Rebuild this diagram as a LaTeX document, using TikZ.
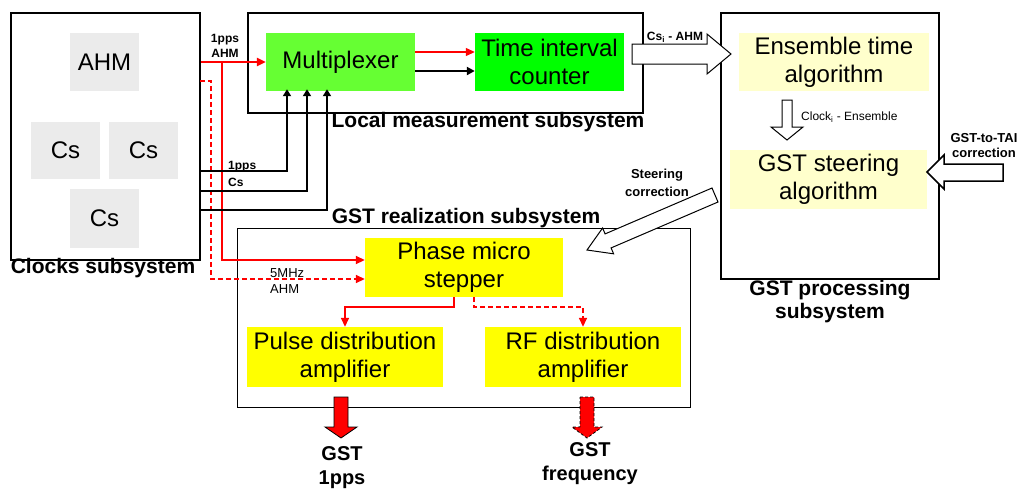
\documentclass[tikz,border=0pt]{standalone}
\usepackage{fontspec}
\setmainfont{Liberation Sans}
\usetikzlibrary{arrows.meta}
\definecolor{muxgreen}{HTML}{66FF33}
\definecolor{ticgreen}{HTML}{00FF00}
\definecolor{algoyellow}{HTML}{FFFFCC}
\definecolor{ampyellow}{HTML}{FFFF00}
\definecolor{clockgray}{HTML}{EBEBEB}
\definecolor{sigred}{HTML}{FF0000}
\begin{document}
\begin{tikzpicture}[x=1pt,y=-1pt,
  frame/.style={draw=black, fill=white, line width=1.6pt, inner sep=0pt, anchor=north west},
  unit/.style={inner sep=0pt, align=center, font=\fontsize{24}{28}\selectfont},
  clk/.style={unit, fill=clockgray, minimum width=69pt},
  caption/.style={inner sep=0pt, align=center, font=\fontsize{21}{23}\selectfont\bfseries},
  tag/.style={inner sep=0pt, align=center, font=\fontsize{12}{15}\selectfont\bfseries},
  note/.style={inner sep=0pt, align=left, font=\fontsize{13}{16}\selectfont},
  redtip/.style={-{Triangle[length=9pt,width=8pt]}},
  blacktip/.style={-{Triangle[length=8pt,width=8pt]}},
  upwire/.style={draw=black, line width=2pt, -{Triangle[length=7pt,width=8pt]}, shorten >=-2pt},
  redsig/.style={draw=sigred, redtip},
  dashsig/.style={draw=sigred, redtip, dash pattern=on 5pt off 3pt},
  hollow/.style={draw=black, fill=white, line width=1pt, line join=miter},
  redblock/.style={draw=black, fill=sigred, line width=0.8pt, line join=miter}
]
\useasboundingbox (0,0) rectangle (1020,491);
\fill[white] (0,0) rectangle (1020,491);

% ---- clocks subsystem ----
\node[frame, minimum width=189pt, minimum height=247pt] (clocks) at (10,12) {};
\node[clk, minimum height=58pt] (ahm) at (104.5,62) {AHM};
\node[clk, minimum height=57pt] (cs1) at (65.5,150.5) {Cs};
\node[clk, minimum height=57pt] (cs2) at (143.5,150.5) {Cs};
\node[clk, minimum height=59pt] (cs3) at (104.5,218.5) {Cs};
\node[caption] (clockslbl) at (103,268) {Clocks subsystem};

% ---- local measurement subsystem ----
\node[frame, line width=1.8pt, minimum width=395pt, minimum height=100pt] (local) at (247,12) {};
\node[unit, fill=muxgreen, minimum width=149pt, minimum height=58pt] (mux) at (340.5,62) {Multiplexer};
\node[unit, fill=ticgreen, minimum width=149pt, minimum height=58pt] (tic) at (549.5,62) {Time interval\\counter};
\node[caption] (locallbl) at (488,122) {Local measurement subsystem};

% ---- GST processing subsystem ----
\node[frame, line width=1.5pt, minimum width=218pt, minimum height=266pt] (proc) at (720,12) {};
\node[unit, fill=algoyellow, minimum width=190pt, minimum height=58pt] (ens) at (834,62) {Ensemble time\\algorithm};
\node[unit, fill=algoyellow, minimum width=197pt, minimum height=59pt] (steer) at (828.5,179.5) {GST steering\\algorithm};
\node[caption] (proclbl) at (830,301.5) {GST processing\\subsystem};

% ---- GST realization subsystem ----
\node[frame, line width=1.4pt, minimum width=453pt, minimum height=179pt] (real) at (237,228) {};
\node[caption] (reallbl) at (466,218) {GST realization subsystem};
\node[unit, fill=ampyellow, minimum width=198pt, minimum height=59pt] (phase) at (464,267.5) {Phase micro\\stepper};
\node[unit, fill=ampyellow, minimum width=196pt, minimum height=60pt] (pulse) at (345,357) {Pulse distribution\\amplifier};
\node[unit, fill=ampyellow, minimum width=196pt, minimum height=60pt] (rf) at (583,357) {RF distribution\\amplifier};

% ---- 1pps from the AHM ----
\draw[redsig, line width=2.4pt] (clocks.east |- mux.west) -- (mux.west);
\node[tag] (lblahm) at (225,46) {1pps\\AHM};
\coordinate (tapA) at (222,62);
\draw[redsig, line width=1.8pt] (tapA) |- ([yshift=7.5pt]phase.west);

% ---- 5 MHz from the AHM ----
\coordinate (tapB) at (200,81);
\coordinate (bendB) at (211,81);
\draw[dashsig, line width=1.6pt] (tapB) -- (bendB) |- ([yshift=-11.5pt]phase.west);
\node[note, anchor=west] (lbl5mhz) at (270,281) {5MHz\\AHM};

% ---- 1pps from the Cs clocks ----
\coordinate (csA) at (199,171);
\coordinate (csB) at (199,191);
\coordinate (csC) at (199,210);
\draw[upwire] (csA) -| ([xshift=-53.5pt]mux.south);
\draw[upwire] (csB) -| ([xshift=-33.5pt]mux.south);
\draw[upwire] (csC) -| ([xshift=-13.5pt]mux.south);
\node[tag, align=left, anchor=west, font=\fontsize{12}{17}\selectfont\bfseries] (lblcs) at (228,173.5) {1pps\\Cs};

% ---- multiplexer to counter ----
\draw[redsig, line width=1.2pt] ([yshift=10pt]mux.east) -- ([yshift=10pt]tic.west);
\draw[black, line width=2pt, blacktip] ([yshift=-9pt]mux.east) -- ([yshift=-9pt]tic.west);

% ---- counter readings to the ensemble algorithm ----
\draw[hollow] (632,44) -- (707,44) -- (707,34) -- (731,54) -- (707,74) -- (707,64) -- (632,64) -- cycle;
\node[tag, font=\fontsize{12}{15}\selectfont\bfseries] (lblcsi) at (675,37) {Cs\textsubscript{i} - AHM};

% ---- ensemble to steering ----
\draw[hollow] (782,100) -- (792,100) -- (792,127) -- (803,127) -- (787,140) -- (771,127) -- (782,127) -- cycle;
\node[note, anchor=west, font=\fontsize{12}{14}\selectfont] (lblclk) at (801,117) {Clock\textsubscript{i} - Ensemble};

% ---- external GST-to-TAI correction ----
\draw[hollow, line width=1.5pt] (1003,164) -- (944,164) -- (944,155) -- (927,172) -- (944,189) -- (944,181) -- (1003,181) -- cycle;
\node[tag, font=\fontsize{13}{15}\selectfont\bfseries] (lbltai) at (984,145.5) {GST-to-TAI\\correction};

% ---- steering correction to the micro stepper ----
\draw[hollow] (587,250) -- (602.6,228) -- (605.1,233.9) -- (712,188) -- (718,202) -- (611.1,247.9) -- (613.6,253.8) -- cycle;
\node[tag, font=\fontsize{13}{18}\selectfont\bfseries] (lblsteer) at (657,183) {Steering\\correction};

% ---- micro stepper to the amplifiers ----
\draw[redsig, line width=1.5pt] ([xshift=-10pt]phase.south) -- ++(0,10) -| (pulse.north);
\draw[dashsig, line width=1.5pt] ([xshift=10pt]phase.south) -- ++(0,10) -| (rf.north);

% ---- outputs ----
\draw[redblock] (334,397) -- (348,397) -- (348,427) -- (357,427) -- (341,438) -- (325,427) -- (334,427) -- cycle;
\draw[redblock, dash pattern=on 3pt off 2pt] (580,397) -- (594,397) -- (594,427) -- (602,427) -- (587,438) -- (572,427) -- (580,427) -- cycle;
\node[caption, font=\fontsize{20}{24}\selectfont\bfseries] (out1) at (342,468) {GST\\1pps};
\node[caption, font=\fontsize{20}{24}\selectfont\bfseries] (out2) at (590,464) {GST\\frequency};
\end{tikzpicture}
\end{document}
